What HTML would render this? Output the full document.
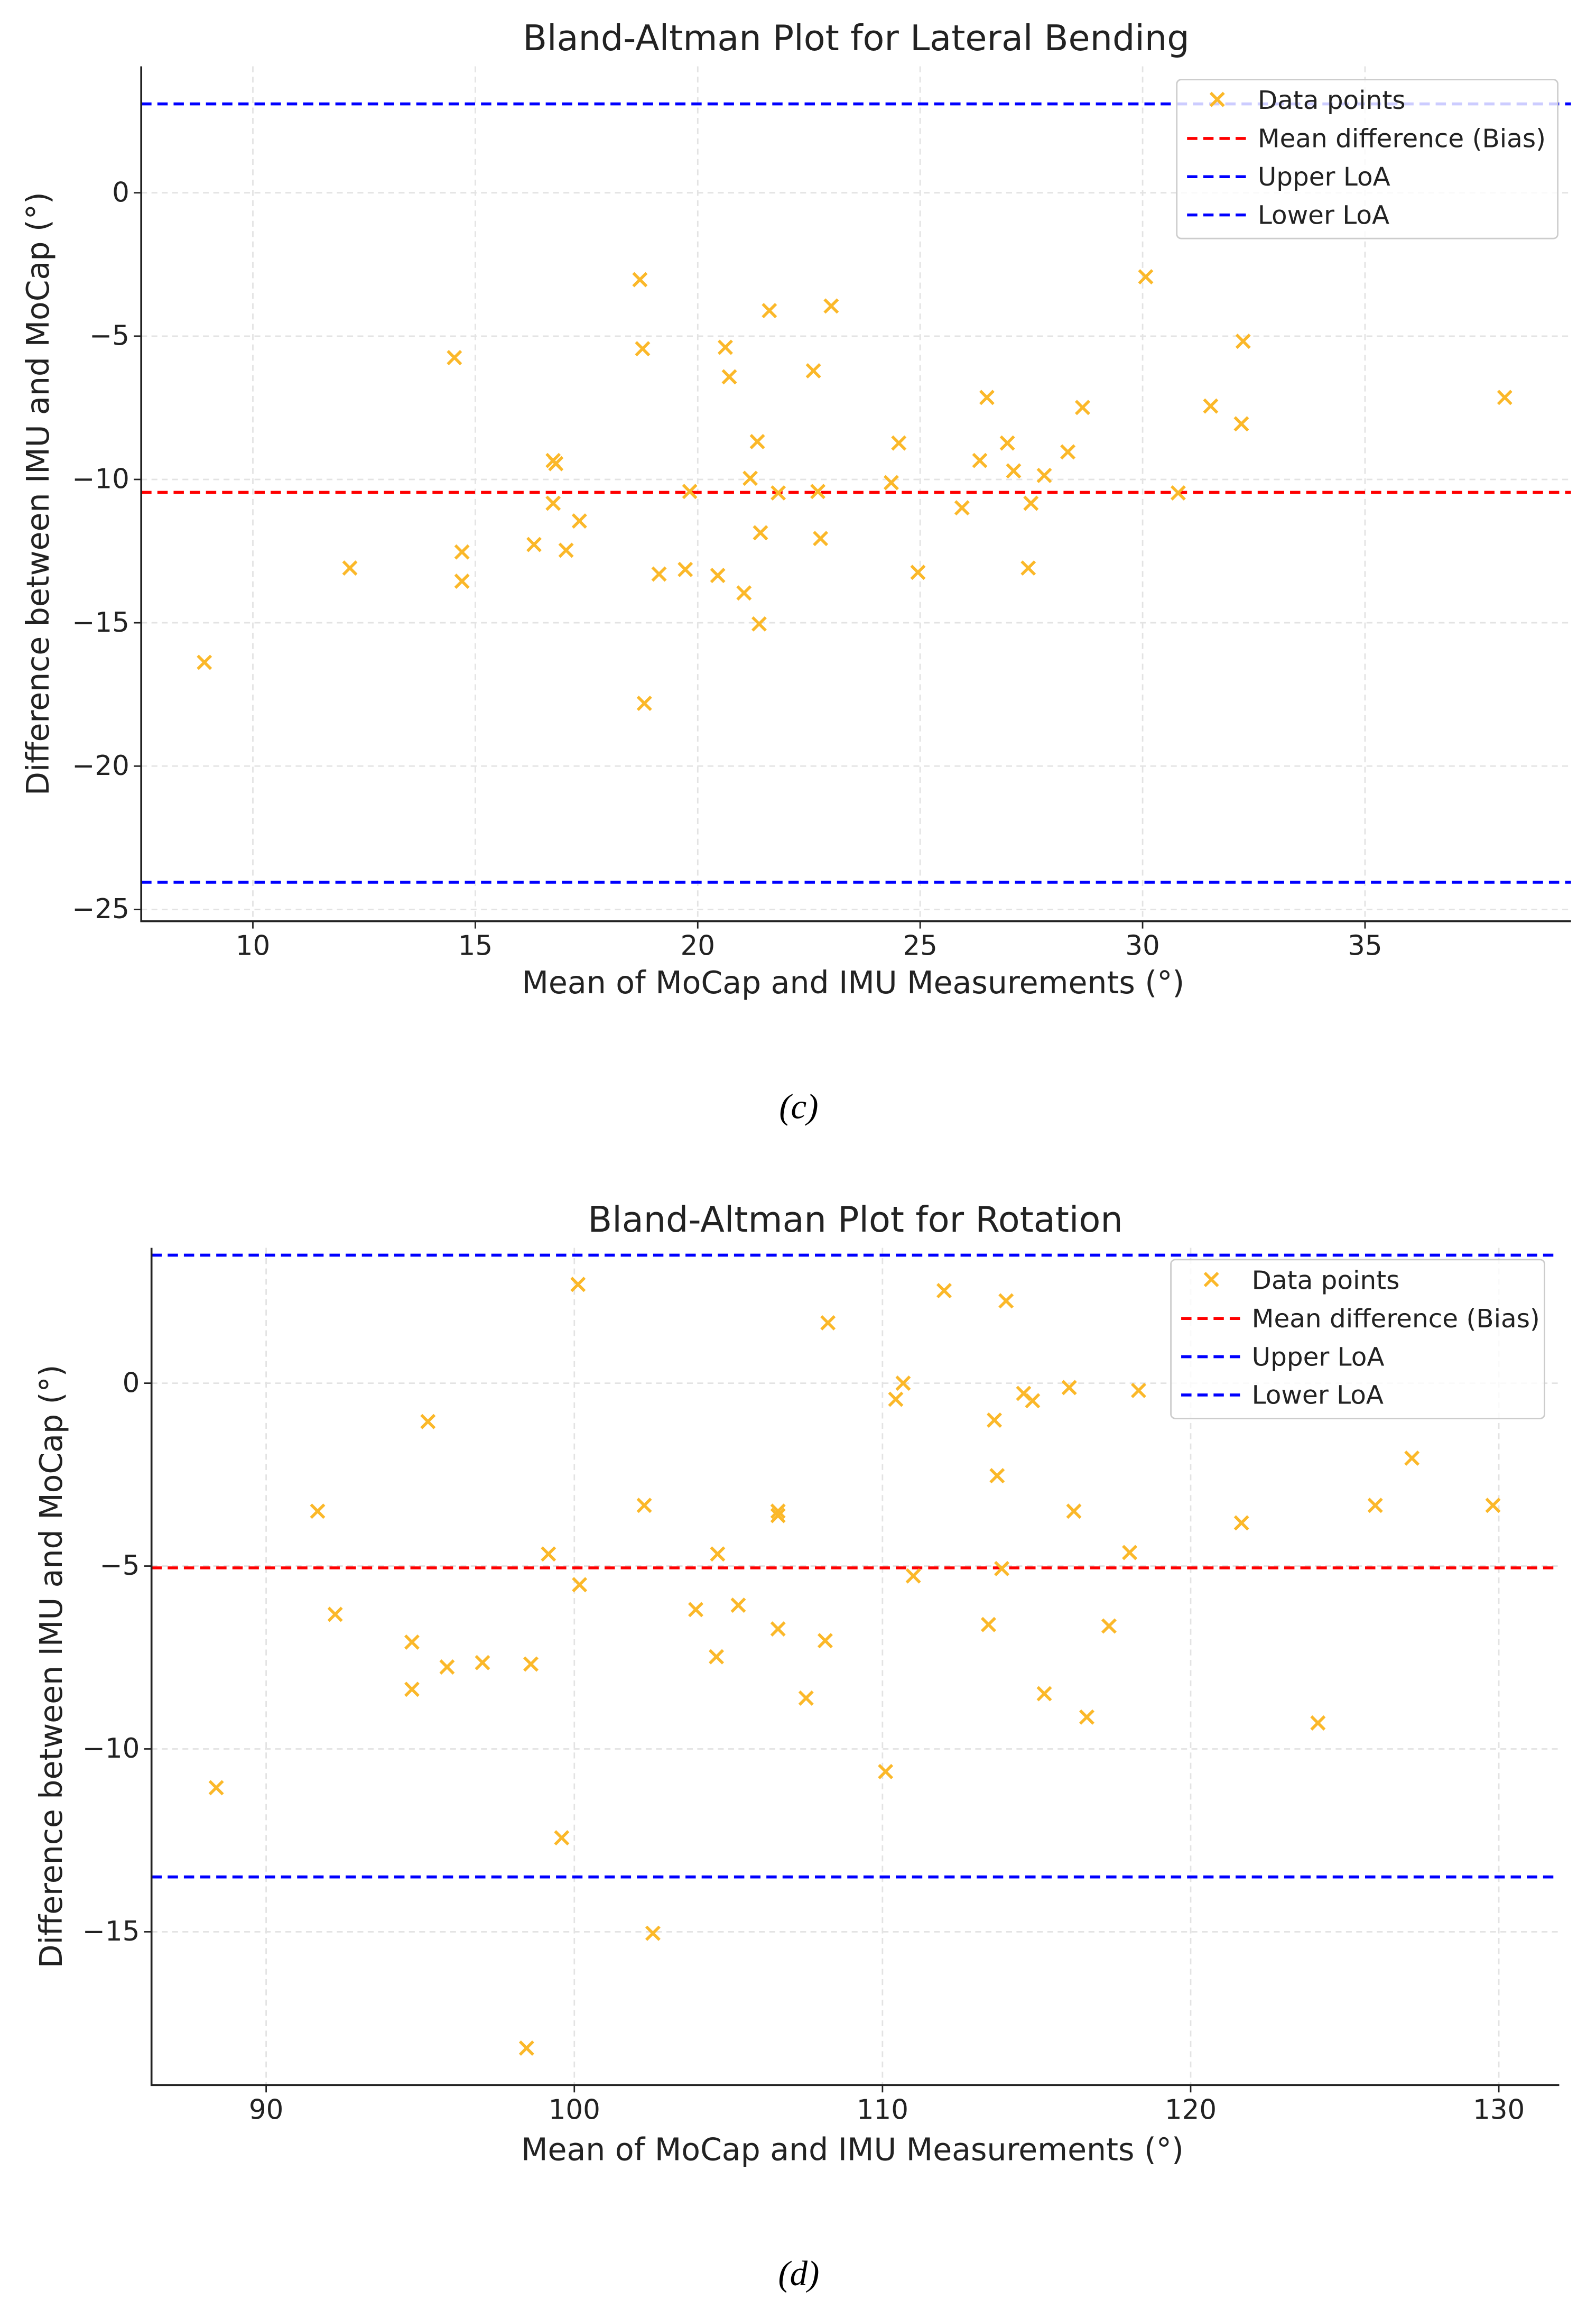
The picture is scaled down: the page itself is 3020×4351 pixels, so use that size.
<!DOCTYPE html>
<html><head><meta charset="utf-8"><style>
html,body{margin:0;padding:0;background:#fff;}
svg{display:block;font-family:"DejaVu Sans","Liberation Sans",sans-serif;}
</style></head><body>
<svg id="root" width="3020" height="4351" viewBox="0 0 1085 1563" xmlns="http://www.w3.org/2000/svg">
<rect width="1085" height="1563" fill="#fff"/>
<g id="chartC"></g>
<g id="chartD"></g>
<text x="543" y="760" text-anchor="middle" font-family="Liberation Serif,serif" font-style="italic" font-size="24">(c)</text>
<text x="543" y="1553" text-anchor="middle" font-family="Liberation Serif,serif" font-style="italic" font-size="24">(d)</text>
</svg>
<script>
// Chart (c) data
const cX = [8.91,12.18,14.53,14.70,14.70,16.32,16.75,16.81,16.75,17.04,17.34,18.70,18.76,18.80,19.13,19.72,19.82,20.45,20.62,20.71,21.04,21.18,21.34,21.38,21.41,21.61,21.81,22.60,22.70,22.76,23.00,24.35,24.52,24.95,25.94,26.34,26.50,26.96,27.10,27.43,27.49,27.79,28.32,28.65,30.07,30.80,31.53,32.22,32.26,38.14];
const cY = [-16.38,-13.09,-5.75,-12.53,-13.55,-12.27,-9.34,-9.45,-10.83,-12.47,-11.45,-3.03,-5.44,-17.81,-13.30,-13.14,-10.42,-13.35,-5.39,-6.42,-13.96,-9.96,-8.68,-15.04,-11.86,-4.11,-10.47,-6.21,-10.42,-12.06,-3.95,-10.11,-8.73,-13.24,-10.99,-9.34,-7.14,-8.73,-9.70,-13.09,-10.83,-9.86,-9.04,-7.49,-2.93,-10.47,-7.44,-8.06,-5.18,-7.14];
const cXTicks = [10,15,20,25,30,35];
const cYTicks = [0,-5,-10,-15,-20,-25];
const cLines = [3.1,-10.45,-24.05];
// Chart (d) data
const dX = [88.38,91.67,92.24,94.73,94.73,95.25,95.87,97.02,98.59,98.45,99.16,99.59,100.12,100.17,102.27,102.55,103.94,104.61,104.65,105.32,106.61,106.61,106.61,107.52,108.14,108.23,110.10,110.43,110.67,111.00,112.00,113.44,113.63,113.72,113.87,114.01,114.58,114.87,115.25,116.06,116.21,116.63,117.35,118.02,118.31,121.65,124.13,125.99,127.18,129.81];
const dY = [-11.06,-3.50,-6.32,-7.08,-8.37,-1.05,-7.76,-7.64,-7.68,-18.18,-4.67,-12.43,2.70,-5.51,-3.34,-15.04,-6.19,-7.48,-4.67,-6.07,-3.50,-3.62,-6.72,-8.61,-7.04,1.65,-10.62,-0.44,0.0,-5.27,2.53,-6.60,-1.01,-2.53,-5.07,2.25,-0.28,-0.48,-8.49,-0.12,-3.50,-9.13,-6.64,-4.63,-0.20,-3.82,-9.29,-3.34,-2.05,-3.34];
const dXTicks = [90,100,110,120,130];
const dYTicks = [0,-5,-10,-15];
const dLines = [3.5,-5.05,-13.5];
const legendLabels = ["Data points","Mean difference (Bias)","Upper LoA","Lower LoA"];

const NS="http://www.w3.org/2000/svg";
function mk(parent,tag,attrs,text){const e=document.createElementNS(NS,tag);for(const k in attrs)e.setAttribute(k,attrs[k]);if(text!==undefined)e.textContent=text;parent.appendChild(e);return e;}

function draw(g,cfg){
  const {L,R,T,B,xmin,xmax,ymin,ymax,xs,ys,xt,yt,lines,title,titleY,xlab,xlabY,ylabX,leg}=cfg;
  const sx=v=>L+(v-xmin)/(xmax-xmin)*(R-L);
  const sy=v=>B-(v-ymin)/(ymax-ymin)*(B-T);
  xt.forEach(t=>{
    const ln=mk(g,'line',{x1:sx(t),x2:sx(t),y1:T,y2:B,stroke:'#e3e3e3','stroke-width':1,'stroke-dasharray':'4,3'});
    
    
    mk(g,'line',{x1:sx(t),x2:sx(t),y1:B,y2:B+5,stroke:'#222','stroke-width':1});
    const tx=mk(g,'text',{x:sx(t),y:B+23,'text-anchor':'middle','font-size':18.5,fill:'#222'},String(t));
    
    
  });
  yt.forEach(t=>{
    const ln=mk(g,'line',{x1:L,x2:R,y1:sy(t),y2:sy(t),stroke:'#e3e3e3','stroke-width':1,'stroke-dasharray':'4,3'});
    
    
    mk(g,'line',{x1:L-5,x2:L,y1:sy(t),y2:sy(t),stroke:'#222','stroke-width':1});
    const tx=mk(g,'text',{x:L-8,y:sy(t)+6,'text-anchor':'end','font-size':18.5,fill:'#222'},(t<0?'\u2212'+(-t):String(t)));
    
    
  });
  const cols=['#ff0000','#0000ff','#0000ff'];
  const nms=['mean-bias-line','upper-loa-line','lower-loa-line'];
  const order=[1,0,2];
  lines.forEach((v,i)=>{
    const ln=mk(g,'line',{x1:L,x2:R,y1:sy(v),y2:sy(v),stroke:cols[order[i]],'stroke-width':2,'stroke-dasharray':'7,4'});
    
    
  });
  xs.forEach((v,i)=>{
    const x=sx(v),y=sy(ys[i]),s=4.5;
    const p=mk(g,'path',{d:`M${x-s},${y-s}L${x+s},${y+s}M${x-s},${y+s}L${x+s},${y-s}`,stroke:'#fbb829','stroke-width':2,fill:'none'});
    
    
  });
  mk(g,'path',{d:`M${L},${T}V${B}H${R}`,stroke:'#222','stroke-width':1.3,fill:'none'});
  const tt=mk(g,'text',{x:(L+R)/2,y:titleY,'text-anchor':'middle','font-size':24,fill:'#222'},title);
  
  
  const xl=mk(g,'text',{x:(L+R)/2-2,y:xlabY,'text-anchor':'middle','font-size':21,fill:'#222'},xlab);
  
  
  const yl=mk(g,'text',{x:0,y:0,'text-anchor':'middle','font-size':21,fill:'#222',transform:`translate(${ylabX},${(T+B)/2}) rotate(-90)`},'Difference between IMU and MoCap (\u00b0)');
  
  
  const lg=mk(g,'g',{});
  
  
  mk(lg,'rect',{x:leg[0],y:leg[1],width:leg[2],height:108,rx:3,fill:'#fff','fill-opacity':0.8,stroke:'#ccc','stroke-width':1});
  const lc=['#fbb829','#ff0000','#0000ff','#0000ff'];
  legendLabels.forEach((lab,i)=>{
    const yy=leg[1]+14+i*26, x0=leg[0]+7;
    if(i===0){mk(lg,'path',{d:`M${x0+16},${yy-5}l9,9m-9,0l9,-9`,stroke:lc[0],'stroke-width':2});}
    else mk(lg,'line',{x1:x0,x2:x0+40,y1:yy,y2:yy,stroke:lc[i],'stroke-width':2,'stroke-dasharray':'7,4'});
    const t=mk(lg,'text',{x:x0+48,y:yy+6,'font-size':17.4,fill:'#222'},lab);
    
    
  });
}
draw(document.getElementById('chartC'),{L:96,R:1068,T:45,B:626,xmin:7.49,xmax:39.63,ymin:-25.41,ymax:4.41,xs:cX,ys:cY,xt:cXTicks,yt:cYTicks,lines:cLines,title:'Bland-Altman Plot for Lateral Bending',titleY:34,xlab:'Mean of MoCap and IMU Measurements (\u00b0)',xlabY:675,ylabX:33,leg:[800,54,259]});
draw(document.getElementById('chartD'),{L:103,R:1060,T:848,B:1417,xmin:86.28,xmax:131.96,ymin:-19.19,ymax:3.70,xs:dX,ys:dY,xt:dXTicks,yt:dYTicks,lines:dLines,title:'Bland-Altman Plot for Rotation',titleY:837,xlab:'Mean of MoCap and IMU Measurements (\u00b0)',xlabY:1468,ylabX:42,leg:[796,856,254]});
</script>
</body></html>
